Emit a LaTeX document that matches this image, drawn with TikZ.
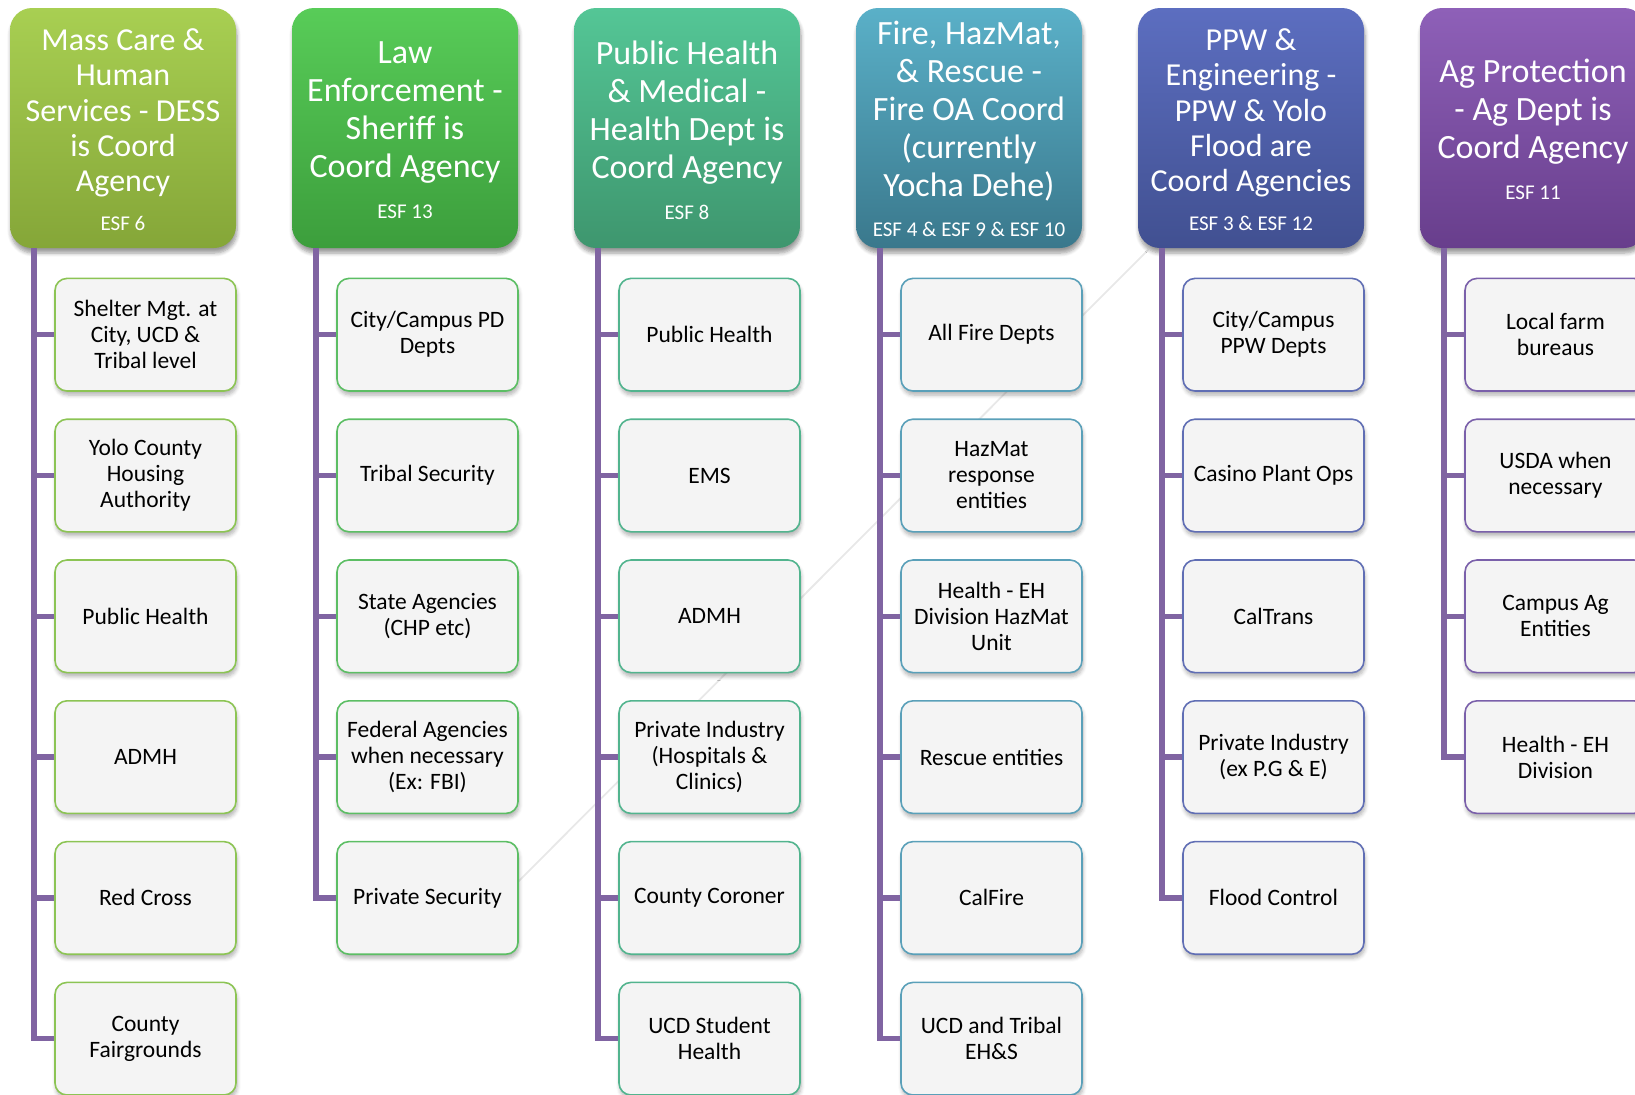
\documentclass[tikz,border=0pt]{standalone}
\usepackage{fontspec}
\setmainfont{Carlito}
\usetikzlibrary{shadows.blur}
\definecolor{trunkc}{RGB}{128,100,162}
\definecolor{kidfill}{RGB}{244,244,244}
\definecolor{hat}{RGB}{168,207,82}\definecolor{hab}{RGB}{133,166,56}
\definecolor{hbt}{RGB}{88,204,88}\definecolor{hbb}{RGB}{60,158,60}
\definecolor{hct}{RGB}{84,198,150}\definecolor{hcb}{RGB}{62,150,110}
\definecolor{hdt}{RGB}{90,176,200}\definecolor{hdb}{RGB}{58,120,140}
\definecolor{het}{RGB}{92,110,192}\definecolor{heb}{RGB}{65,80,145}
\definecolor{hft}{RGB}{142,96,184}\definecolor{hfb}{RGB}{104,62,140}
\definecolor{ka}{RGB}{140,196,84}
\definecolor{kb}{RGB}{92,190,100}
\definecolor{kc}{RGB}{82,180,142}
\definecolor{kd}{RGB}{90,160,185}
\definecolor{ke}{RGB}{96,110,180}
\definecolor{kf}{RGB}{122,96,170}
\tikzset{
  hdr/.style={rounded corners=11pt, minimum width=113pt, minimum height=120pt, inner sep=0pt,
    blur shadow={shadow xshift=0.5pt, shadow yshift=-2.5pt, shadow opacity=40, shadow blur steps=6}},
  kid/.style={rounded corners=6pt, minimum width=90.5pt, minimum height=56.3pt, inner sep=2pt,
    fill=kidfill, line width=0.8pt, align=center, text=black, font=\fontsize{11.75}{13}\selectfont,
    blur shadow={shadow xshift=0.5pt, shadow yshift=-2pt, shadow opacity=30, shadow blur steps=5}},
  trunk/.style={trunkc, line width=2.7pt},
  ttl/.style={text=white, align=center, font=\fontsize{17}{19}\selectfont, inner sep=0pt},
  ttls/.style={text=white, align=center, font=\fontsize{16}{17.6}\selectfont, inner sep=0pt},
  esf/.style={text=white, font=\fontsize{10.5}{12}\selectfont, inner sep=0pt},
  faint/.style={gray!18, line width=0.9pt}
}
\begin{document}
\begin{tikzpicture}[x=0.5pt,y=-0.5pt]
\useasboundingbox (0,0) rectangle (1635,1094);
\clip (0,0) rectangle (1635,1094);

% faint diagonal artefact line (behind everything)
\coordinate (fa) at (1148,250);
\coordinate (fb) at (468,932);
\draw[faint] (fa) -- (fb);

% headers
\node[hdr, top color=hat, bottom color=hab] (h1) at (123,128) {};
\node[hdr, top color=hbt, bottom color=hbb] (h2) at (405,128) {};
\node[hdr, top color=hct, bottom color=hcb] (h3) at (687,128) {};
\node[hdr, top color=hdt, bottom color=hdb] (h4) at (969,128) {};
\node[hdr, top color=het, bottom color=heb] (h5) at (1251,128) {};
\node[hdr, top color=hft, bottom color=hfb] (h6) at (1533,128) {};

\node[ttls] (h1t) at (123,113) {Mass Care \&\\Human\\Services - DESS\\is Coord\\Agency};
\node[esf] (h1e) at (123,223) {ESF 6};
\node[ttl] (h2t) at (405,113) {Law\\Enforcement -\\Sheriff is\\Coord Agency};
\node[esf] (h2e) at (405,212) {ESF 13};
\node[ttl] (h3t) at (687,113) {Public Health\\\& Medical -\\Health Dept is\\Coord Agency};
\node[esf] (h3e) at (687,212) {ESF 8};
\node[ttl] (h4t) at (969,111) {Fire, HazMat,\\\& Rescue -\\Fire OA Coord\\(currently\\Yocha Dehe)};
\node[esf] (h4e) at (969,229) {ESF 4 \& ESF 9 \& ESF 10};
\node[ttls] (h5t) at (1251,113) {PPW \&\\Engineering -\\PPW \& Yolo\\Flood are\\Coord Agencies};
\node[esf] (h5e) at (1251,223) {ESF 3 \& ESF 12};
\node[ttl] (h6t) at (1533,112) {Ag Protection\\- Ag Dept is\\Coord Agency};
\node[esf] (h6e) at (1533,193) {ESF 11};

% trunk anchors at header bottoms
\coordinate (t1) at (34,248);
\coordinate (t2) at (316,248);
\coordinate (t3) at (598,248);
\coordinate (t4) at (880,248);
\coordinate (t5) at (1162,248);
\coordinate (t6) at (1444,248);

% children
\foreach \t [count=\i] in {{Shelter Mgt. at\\City, UCD \&\\Tribal level},{Yolo County\\Housing\\Authority},{Public Health},{ADMH},{Red Cross},{County\\Fairgrounds}}{
  \node[kid, draw=ka] (c1-\i) at (145.5,{334.7+140.8*(\i-1)}) {\t};
  \draw[trunk] (t1) |- (c1-\i.west);
}
\foreach \t [count=\i] in {{City/Campus PD\\Depts},{Tribal Security},{State Agencies\\(CHP etc)},{Federal Agencies\\when necessary\\(Ex: FBI)},{Private Security}}{
  \node[kid, draw=kb] (c2-\i) at (427.5,{334.7+140.8*(\i-1)}) {\t};
  \draw[trunk] (t2) |- (c2-\i.west);
}
\foreach \t [count=\i] in {{Public Health},{EMS},{ADMH},{Private Industry\\(Hospitals \&\\Clinics)},{County Coroner},{UCD Student\\Health}}{
  \node[kid, draw=kc] (c3-\i) at (709.5,{334.7+140.8*(\i-1)}) {\t};
  \draw[trunk] (t3) |- (c3-\i.west);
}
\foreach \t [count=\i] in {{All Fire Depts},{HazMat\\response\\entities},{Health - EH\\Division HazMat\\Unit},{Rescue entities},{CalFire},{UCD and Tribal\\EH\&S}}{
  \node[kid, draw=kd] (c4-\i) at (991.5,{334.7+140.8*(\i-1)}) {\t};
  \draw[trunk] (t4) |- (c4-\i.west);
}
\foreach \t [count=\i] in {{City/Campus\\PPW Depts},{Casino Plant Ops},{CalTrans},{Private Industry\\(ex P.G \& E)},{Flood Control}}{
  \node[kid, draw=ke] (c5-\i) at (1273.5,{334.7+140.8*(\i-1)}) {\t};
  \draw[trunk] (t5) |- (c5-\i.west);
}
\foreach \t [count=\i] in {{Local farm\\bureaus},{USDA when\\necessary},{Campus Ag\\Entities},{Health - EH\\Division}}{
  \node[kid, draw=kf] (c6-\i) at (1555.5,{334.7+140.8*(\i-1)}) {\t};
  \draw[trunk] (t6) |- (c6-\i.west);
}
\end{tikzpicture}
\end{document}
